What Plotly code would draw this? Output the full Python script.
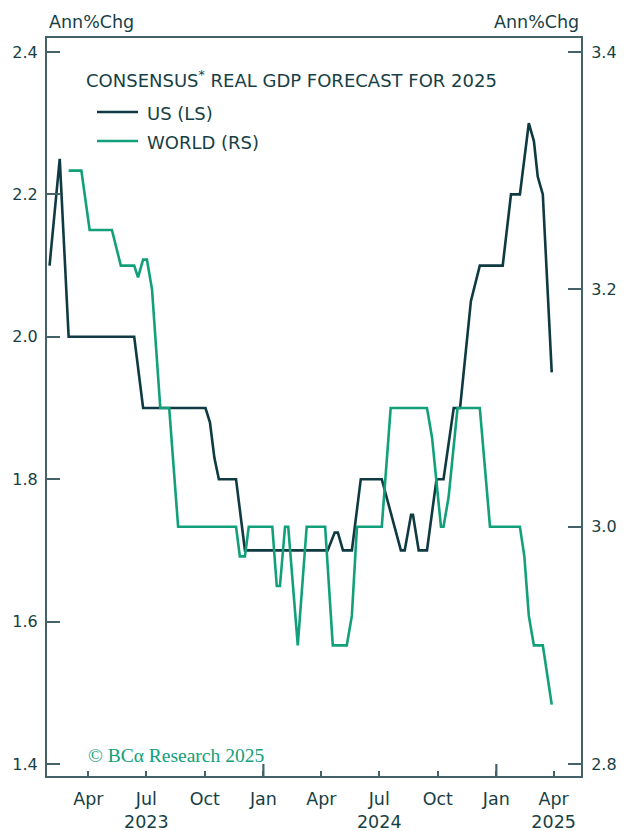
import plotly.graph_objects as go

# ---- data ----
us_dates = ["2023-01-30", "2023-02-15", "2023-03-01", "2023-06-12", "2023-06-26",
            "2023-10-02", "2023-10-09", "2023-10-16", "2023-10-23", "2023-11-19",
            "2023-12-03", "2024-04-11", "2024-04-22", "2024-04-27", "2024-05-05",
            "2024-05-19", "2024-06-02", "2024-07-05", "2024-08-04", "2024-08-10",
            "2024-08-20", "2024-08-23", "2024-09-01", "2024-09-14", "2024-09-29",
            "2024-10-10", "2024-10-26", "2024-11-05", "2024-11-22", "2024-12-06",
            "2025-01-11", "2025-01-24", "2025-02-07", "2025-02-21", "2025-03-01",
            "2025-03-07", "2025-03-15", "2025-03-21", "2025-03-29"]
us_values = [2.10, 2.25, 2.00, 2.00, 1.90,
             1.90, 1.88, 1.83, 1.80, 1.80,
             1.70, 1.70, 1.725, 1.725, 1.70,
             1.70, 1.80, 1.80, 1.70, 1.70,
             1.75, 1.75, 1.70, 1.70, 1.80,
             1.80, 1.90, 1.90, 2.05, 2.10,
             2.10, 2.20, 2.20, 2.30, 2.275,
             2.225, 2.20, 2.10, 1.95]

world_dates = ["2023-03-01", "2023-03-21", "2023-04-03", "2023-05-08", "2023-05-22",
               "2023-06-12", "2023-06-18", "2023-06-26", "2023-07-02", "2023-07-10",
               "2023-07-23", "2023-08-06", "2023-08-20", "2023-11-19", "2023-11-25",
               "2023-12-03", "2023-12-09", "2024-01-15", "2024-01-22", "2024-01-27",
               "2024-02-04", "2024-02-09", "2024-02-24", "2024-03-09", "2024-04-07",
               "2024-04-19", "2024-05-11", "2024-05-19", "2024-05-27", "2024-07-05",
               "2024-07-19", "2024-09-14", "2024-09-22", "2024-10-06", "2024-10-10",
               "2024-10-18", "2024-11-01", "2024-12-06", "2024-12-22", "2025-02-07",
               "2025-02-14", "2025-02-21", "2025-03-01", "2025-03-15", "2025-03-29"]
world_values = [3.30, 3.30, 3.25, 3.25, 3.22,
                3.22, 3.21, 3.225, 3.225, 3.20,
                3.10, 3.10, 3.00, 3.00, 2.975,
                2.975, 3.00, 3.00, 2.95, 2.95,
                3.00, 3.00, 2.90, 3.00, 3.00,
                2.90, 2.90, 2.925, 3.00, 3.00,
                3.10, 3.10, 3.075, 3.00, 3.00,
                3.025, 3.10, 3.10, 3.00, 3.00,
                2.975, 2.925, 2.90, 2.90, 2.85]

x_tick_dates = ["2023-04-01", "2023-07-01", "2023-10-01", "2024-01-01", "2024-04-01",
                "2024-07-01", "2024-10-01", "2025-01-01", "2025-04-01"]
x_tick_text = ["Apr", "Jul<br>2023", "Oct", "Jan", "Apr", "Jul<br>2024", "Oct", "Jan", "Apr<br>2025"]
year_start_ticks = ["2024-01-01", "2025-01-01"]

left_ticks = [1.4, 1.6, 1.8, 2.0, 2.2, 2.4]
right_ticks = [2.8, 3.0, 3.2, 3.4]

# ---- style ----
DARK = "#0f3a42"
GREEN = "#12a07a"
TEXT = "#173f46"
AXIS = "#44626a"
FONT = "DejaVu Sans"

fig = go.Figure()
fig.add_trace(go.Scatter(x=us_dates, y=us_values, mode="lines", name="US (LS)",
                         line=dict(color=DARK, width=2.6), yaxis="y"))
fig.add_trace(go.Scatter(x=world_dates, y=world_values, mode="lines", name="WORLD (RS)",
                         line=dict(color=GREEN, width=2.6), yaxis="y2"))

W, H = 627, 831
ml, mr, mt, mb = 47, 46, 38, 55
pw, ph = W - ml - mr, H - mt - mb

fig.update_layout(
    width=W, height=H,
    margin=dict(l=ml, r=mr, t=mt, b=mb, autoexpand=False),
    paper_bgcolor="white", plot_bgcolor="white",
    showlegend=False,
    font=dict(family=FONT, color=TEXT, size=16),
    xaxis=dict(
        type="date", range=["2023-01-26", "2025-05-14"],
        tickvals=x_tick_dates, ticktext=x_tick_text,
        ticks="inside", ticklen=5, tickwidth=2, tickcolor=AXIS,
        showline=True, linecolor=AXIS, linewidth=2, mirror=True,
        showgrid=False, zeroline=False, automargin=False,
        tickfont=dict(size=17.5, color=TEXT), ticklabelstandoff=6,
    ),
    yaxis=dict(
        range=[1.3831, 2.4197], tickvals=left_ticks, tickformat=".1f",
        ticks="inside", ticklen=13, tickwidth=1.6, tickcolor=AXIS,
        showline=True, linecolor=AXIS, linewidth=2,
        showgrid=False, zeroline=False, automargin=False,
        tickfont=dict(size=16, color=TEXT), ticklabelstandoff=4,
    ),
    yaxis2=dict(
        overlaying="y", side="right",
        range=[2.7899, 3.4118], tickvals=right_ticks, tickformat=".1f",
        ticks="inside", ticklen=13, tickwidth=1.6, tickcolor=AXIS,
        showline=True, linecolor=AXIS, linewidth=2,
        showgrid=False, zeroline=False, automargin=False,
        tickfont=dict(size=16, color=TEXT), ticklabelstandoff=5,
    ),
)

# long ticks at year starts
for d in year_start_ticks:
    fig.add_shape(type="line", xref="x", yref="paper", x0=d, x1=d, y0=0, y1=12 / ph,
                  line=dict(color=AXIS, width=2.2))

def px(xp):
    return (xp - ml) / pw

def py(yp):
    return (H - mb - yp) / ph

# axis unit labels
fig.add_annotation(text="Ann%Chg", xref="paper", yref="paper", x=0, y=py(22),
                   xanchor="left", yanchor="middle", showarrow=False,
                   font=dict(size=17.5, color=TEXT, family=FONT))
fig.add_annotation(text="Ann%Chg", xref="paper", yref="paper", x=1, y=py(22),
                   xanchor="right", yanchor="middle", showarrow=False,
                   font=dict(size=17.5, color=TEXT, family=FONT))

# title
fig.add_annotation(text="CONSENSUS<sup>*</sup> REAL GDP FORECAST FOR 2025",
                   xref="paper", yref="paper", x=px(84), y=py(79),
                   xanchor="left", yanchor="middle", showarrow=False,
                   font=dict(size=18, color=TEXT, family=FONT))

# legend
legend_items = [("US (LS)", DARK, 112), ("WORLD (RS)", GREEN, 141)]
for label, col, yy in legend_items:
    fig.add_shape(type="line", xref="paper", yref="paper", x0=px(97), x1=px(138),
                  y0=py(yy), y1=py(yy), line=dict(color=col, width=2.6))
    fig.add_annotation(text=label, xref="paper", yref="paper", x=px(145), y=py(yy + 1),
                       xanchor="left", yanchor="middle", showarrow=False,
                       font=dict(size=18, color=TEXT, family=FONT))

# copyright
fig.add_annotation(text="© BCα Research 2025", xref="paper", yref="paper",
                   x=px(86), y=py(755), xanchor="left", yanchor="middle", showarrow=False,
                   font=dict(size=19.5, color=GREEN, family="Liberation Serif"))

fig.write_html("out.html", config={"displayModeBar": False},
               post_script="document.body.style.margin='0';document.body.style.overflow='hidden';")
